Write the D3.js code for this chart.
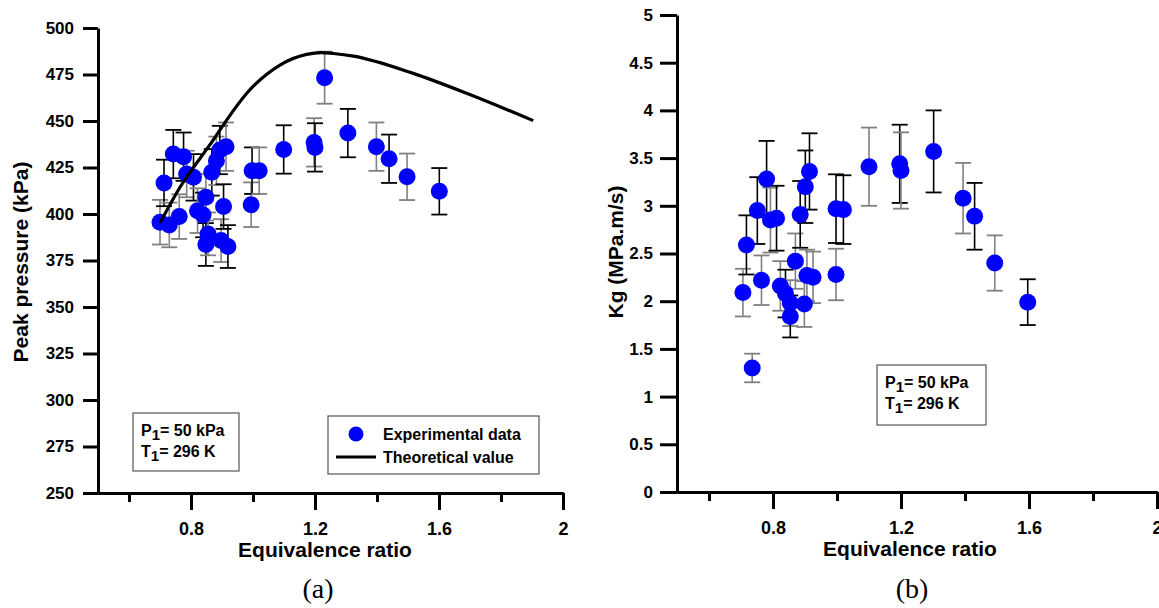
<!DOCTYPE html>
<html>
<head>
<meta charset="utf-8">
<script src="https://cdn.jsdelivr.net/npm/d3@7"></script>
<style>
  body { margin: 0; background: #fff; }
  svg { display: block; font-family: "Liberation Sans", Arial, sans-serif; font-weight: bold; }
</style>
</head>
<body>
<svg id="chart" width="1159" height="608"></svg>
<script>
// ---- data (a) peak pressure ----
const phiA = [0.700, 0.713, 0.730, 0.743, 0.762, 0.776, 0.786, 0.808, 0.821, 0.839, 0.848, 0.848,
  0.855, 0.867, 0.882, 0.893, 0.897, 0.905, 0.913, 0.919, 0.994, 0.997, 1.020, 1.099,
  1.197, 1.200, 1.231, 1.306, 1.398, 1.439, 1.497, 1.601];
const presA = [395.6, 416.7, 394.1, 432.2, 398.6, 430.8, 421.5, 419.7, 401.8, 399.5, 409.0, 383.6,
  389.3, 422.4, 428.6, 434.4, 385.7, 404.0, 436.2, 382.5, 405.0, 423.3, 423.3, 434.7,
  438.5, 435.8, 473.3, 443.5, 436.2, 429.7, 420.0, 412.2];
const errA = [12, 12.5, 12, 13, 12, 13, 12.5, 12.5, 12, 12, 12.5, 11.5,
  11.5, 12.5, 13, 13, 11.5, 12, 13, 11.5, 12, 12.5, 12.5, 13,
  13, 13, 14, 13, 13, 13, 12.5, 12.5];
const theoPhi = [0.700, 0.765, 0.872, 0.915, 0.980, 1.087, 1.173, 1.220, 1.259, 1.324, 1.517, 1.689, 1.904];
const theoP = [395.2, 414.5, 439.8, 450.5, 464.9, 480.1, 485.8, 486.8, 486.3, 484.9, 475.6, 464.9, 450.2];

// ---- data (b) Kg ----
const phiB = [0.706, 0.717, 0.735, 0.751, 0.764, 0.780, 0.792, 0.811, 0.823, 0.839, 0.854, 0.854,
  0.870, 0.885, 0.898, 0.901, 0.906, 0.914, 0.925, 0.997, 0.997, 1.020, 1.100, 1.196,
  1.200, 1.302, 1.394, 1.430, 1.493, 1.596];
const kgB = [2.09, 2.59, 1.30, 2.95, 2.22, 3.28, 2.85, 2.87, 2.16, 2.08, 1.98, 1.84,
  2.42, 2.91, 1.97, 3.20, 2.27, 3.36, 2.25, 2.97, 2.28, 2.96, 3.41, 3.44,
  3.37, 3.57, 3.08, 2.89, 2.40, 1.99];
const errB = [0.25, 0.31, 0.15, 0.35, 0.26, 0.40, 0.34, 0.34, 0.26, 0.25, 0.24, 0.22,
  0.29, 0.35, 0.24, 0.38, 0.27, 0.40, 0.27, 0.36, 0.27, 0.36, 0.41, 0.41,
  0.40, 0.43, 0.37, 0.35, 0.29, 0.24];

const xMajor = [0.8, 1.2, 1.6, 2.0];
const xMinor = [0.6, 1.0, 1.4, 1.8];
const yTicksA = [250, 275, 300, 325, 350, 375, 400, 425, 450, 475, 500];
const yTicksB = [0, 0.5, 1, 1.5, 2, 2.5, 3, 3.5, 4, 4.5, 5];

const svg = d3.select("#chart");

// scales
const xA = d3.scaleLinear().domain([0.5, 2.0]).range([98, 563]);
const yA = d3.scaleLinear().domain([250, 500]).range([493, 28]);
const xB = d3.scaleLinear().domain([0.5, 2.0]).range([677, 1157]);
const yB = d3.scaleLinear().domain([0, 5]).range([492, 15]);

function drawAxes(x, y, yTicks, yTickSize, yPad) {
  let g = svg.append("g");
  let y0 = y.range()[0];
  let x0 = x.range()[0];
  // minor x ticks
  g.append("g").attr("transform", `translate(0,${y0})`)
    .call(d3.axisBottom(x).tickValues(xMinor).tickSize(9).tickSizeOuter(0).tickFormat(""));
  let xg = g.append("g").attr("transform", `translate(0,${y0})`)
    .call(d3.axisBottom(x).tickValues(xMajor).tickSize(17).tickSizeOuter(0).tickPadding(12)
      .tickFormat(d => d === 2 ? "2" : d3.format(".1f")(d)));
  let yg = g.append("g").attr("transform", `translate(${x0},0)`)
    .call(d3.axisLeft(y).tickValues(yTicks).tickSize(yTickSize).tickSizeOuter(0).tickPadding(yPad)
      .tickFormat(d => String(d)));
  g.selectAll("path, line").attr("stroke", "#000").attr("stroke-width", 3);
  g.selectAll("text").attr("fill", "#000").style("font-weight", "bold")
    .style("font-family", '"Liberation Sans", Arial, sans-serif');
  xg.selectAll("text").style("font-size", "18px");
  yg.selectAll("text").style("font-size", "17px");
  return g;
}

drawAxes(xA, yA, yTicksA, 15, 9);
drawAxes(xB, yB, yTicksB, 17, 7);

// axis titles
function title(txt, x, y, rot) {
  svg.append("text")
    .attr("transform", `translate(${x},${y})` + (rot ? " rotate(-90)" : ""))
    .attr("text-anchor", "middle")
    .style("font-size", "21px")
    .attr("fill", "#000")
    .text(txt);
}
title("Equivalence ratio", 325, 557, false);
title("Equivalence ratio", 910, 556, false);
title("Peak pressure (kPa)", 28, 262, true);
title("Kg (MPa.m/s)", 623, 252, true);

// captions
svg.append("text").attr("x", 318).attr("y", 598).attr("text-anchor", "middle")
  .style("font-family", '"Liberation Serif", "Times New Roman", serif').style("font-weight", "normal")
  .style("font-size", "28px").text("(a)");
svg.append("text").attr("x", 912).attr("y", 598).attr("text-anchor", "middle")
  .style("font-family", '"Liberation Serif", "Times New Roman", serif').style("font-weight", "normal")
  .style("font-size", "28px").text("(b)");

// error bars + points
function drawPoints(x, y, phis, vals, errs) {
  let g = svg.append("g");
  let cap = 8;
  phis.forEach((p, i) => {
    let col = i % 2 === 0 ? "#808080" : "#000";
    let px = x(p);
    g.append("line").attr("x1", px).attr("x2", px)
      .attr("y1", y(vals[i] + errs[i])).attr("y2", y(vals[i] - errs[i]))
      .attr("stroke", col).attr("stroke-width", 1.6);
    [vals[i] + errs[i], vals[i] - errs[i]].forEach(v => {
      g.append("line").attr("x1", px - cap).attr("x2", px + cap)
        .attr("y1", y(v)).attr("y2", y(v))
        .attr("stroke", col).attr("stroke-width", 1.8);
    });
  });
  g.selectAll("circle").data(phis).join("circle")
    .attr("cx", d => x(d)).attr("cy", (d, i) => y(vals[i]))
    .attr("r", 8.5).attr("fill", "#0000ff");
}
drawPoints(xA, yA, phiA, presA, errA);
drawPoints(xB, yB, phiB, kgB, errB);

// theoretical curve
const theo = theoPhi.map((p, i) => [p, theoP[i]]);
svg.append("path").datum(theo)
  .attr("fill", "none").attr("stroke", "#000").attr("stroke-width", 3.2)
  .attr("d", d3.line().x(d => xA(d[0])).y(d => yA(d[1])).curve(d3.curveMonotoneX));

// condition boxes
function condBox(bx, by, w, h) {
  let g = svg.append("g");
  g.append("rect").attr("x", bx).attr("y", by).attr("width", w).attr("height", h)
    .attr("fill", "#fff").attr("stroke", "#555").attr("stroke-width", 1.2);
  let lines = [["P", "= 50 kPa"], ["T", "= 296 K"]];
  lines.forEach((l, i) => {
    let t = g.append("text").attr("x", bx + 8).attr("y", by + 23 + i * 21)
      .style("font-size", "16px").attr("fill", "#000");
    t.append("tspan").text(l[0]);
    t.append("tspan").attr("dy", 4).style("font-size", "15px").text("1");
    t.append("tspan").attr("dy", -4).text(l[1]);
  });
}
condBox(133, 413, 106, 58);
condBox(877, 365, 109, 60);

// legend
const lg = svg.append("g");
lg.append("rect").attr("x", 328).attr("y", 416).attr("width", 211).attr("height", 58)
  .attr("fill", "#fff").attr("stroke", "#555").attr("stroke-width", 1.2);
lg.append("circle").attr("cx", 356).attr("cy", 434).attr("r", 7.5).attr("fill", "#0000ff");
lg.append("line").attr("x1", 336).attr("x2", 376).attr("y1", 457).attr("y2", 457)
  .attr("stroke", "#000").attr("stroke-width", 3);
lg.append("text").attr("x", 383).attr("y", 440).style("font-size", "16px").text("Experimental data");
lg.append("text").attr("x", 383).attr("y", 463).style("font-size", "16px").text("Theoretical value");
</script>
</body>
</html>
